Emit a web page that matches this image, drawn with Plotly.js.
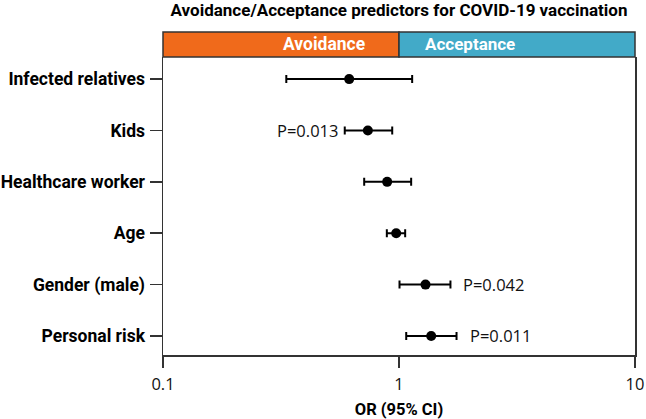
<!DOCTYPE html>
<html>
<head>
<meta charset="utf-8">
<script src="https://cdn.plot.ly/plotly-3.0.1.min.js"></script>
<style>html,body{margin:0;padding:0;background:#fff;}#chart{width:646px;height:419px;}</style>
</head>
<body>
<div id="chart"></div>
<script>
const predictors = ["Infected relatives", "Kids", "Healthcare worker", "Age", "Gender (male)", "Personal risk"];
const oddsRatio = [0.615, 0.738, 0.891, 0.973, 1.295, 1.369];
const ciLow = [0.333, 0.589, 0.712, 0.888, 1.005, 1.073];
const ciHigh = [1.137, 0.936, 1.126, 1.062, 1.652, 1.753];
const pLabels = ["", "P=0.013", "", "", "P=0.042", "P=0.011"];
const pSide = ["", "left", "", "", "right", "right"];
const headerLabels = ["Avoidance", "Acceptance"];
const xTicks = [0.1, 1, 10];
const xTickText = ["0.1", "1", "10"];

const boldFont = "Roboto, 'Open Sans', sans-serif";
const regFont = "'Open Sans', sans-serif";

const trace = {
  type: 'scatter',
  mode: 'markers',
  x: oddsRatio,
  y: predictors,
  marker: {color: '#000', size: 10},
  error_x: {
    type: 'data',
    symmetric: false,
    array: oddsRatio.map((v, i) => ciHigh[i] - v),
    arrayminus: oddsRatio.map((v, i) => v - ciLow[i]),
    color: '#000',
    thickness: 2,
    width: 4
  },
  hoverinfo: 'skip',
  showlegend: false
};

const annotations = [];
predictors.forEach((p, i) => {
  if (!pLabels[i]) return;
  const left = pSide[i] === 'left';
  annotations.push({
    x: Math.log10(left ? ciLow[i] : ciHigh[i]),
    y: p,
    xref: 'x', yref: 'y',
    text: pLabels[i],
    showarrow: false,
    xanchor: left ? 'right' : 'left',
    xshift: left ? -5 : 11,
    font: {family: regFont, size: 16.5, color: '#111'}
  });
});
annotations.push({x: 0.25, y: 1.042, xref: 'paper', yref: 'paper', text: headerLabels[0], showarrow: false,
  font: {family: boldFont, size: 17.5, color: '#fff', weight: 'bold'}, yanchor: 'middle'});
annotations.push({x: 0.75, y: 1.042, xref: 'paper', yref: 'paper', text: headerLabels[1], showarrow: false,
  font: {family: boldFont, size: 17, color: '#fff', weight: 'bold'}, yanchor: 'middle'});

const hTop = 1 + 25 / 298;
const shapes = [
  {type: 'rect', xref: 'paper', yref: 'paper', x0: 0, x1: 0.5, y0: 1, y1: hTop,
   fillcolor: '#F06A1B', line: {color: '#333', width: 1.5}},
  {type: 'rect', xref: 'paper', yref: 'paper', x0: 0.5, x1: 1, y0: 1, y1: hTop,
   fillcolor: '#42AAC8', line: {color: '#333', width: 1.5}},
  {type: 'line', xref: 'x', yref: 'paper', x0: 0, x1: 0, y0: 0, y1: 1,
   line: {color: '#000', width: 1, dash: 'dot'}, layer: 'below'}
];

const layout = {
  width: 646, height: 419,
  margin: {l: 163, r: 11, t: 57, b: 64},
  paper_bgcolor: '#fff', plot_bgcolor: '#fff',
  title: {text: 'Avoidance/Acceptance predictors for COVID-19 vaccination',
    font: {family: boldFont, size: 17, color: '#000', weight: 'bold'},
    x: 0.5, xref: 'paper', y: 0.99, yref: 'container', yanchor: 'top'},
  xaxis: {
    type: 'log', range: [-1, 1],
    tickvals: xTicks, ticktext: xTickText,
    ticks: 'outside', ticklen: 11, tickwidth: 1.5, tickcolor: '#333',
    showline: true, linecolor: '#333', linewidth: 1.5, mirror: false,
    showgrid: false, zeroline: false,
    tickfont: {family: regFont, size: 16.5, color: '#111'},
    ticklabelstandoff: 3,
    title: {text: 'OR (95% CI)', font: {family: boldFont, size: 16.5, color: '#000', weight: 'bold'}, standoff: 15}
  },
  yaxis: {
    type: 'category', categoryorder: 'array', categoryarray: predictors,
    range: [5.37, -0.43],
    ticks: 'outside', ticklen: 12, tickwidth: 1.5, tickcolor: '#333',
    showline: true, linecolor: '#333', linewidth: 1.5, mirror: true,
    showgrid: false, zeroline: false,
    tickfont: {family: boldFont, size: 17.5, color: '#000', weight: 'bold'},
    ticklabelstandoff: 1
  },
  shapes: shapes,
  annotations: annotations
};

Plotly.newPlot('chart', [trace], layout, {displayModeBar: false, staticPlot: true});
</script>
</body>
</html>
